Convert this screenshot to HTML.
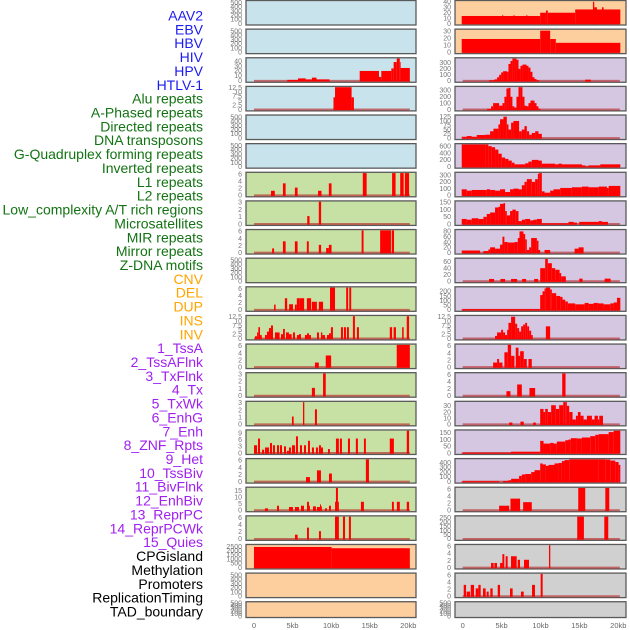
<!DOCTYPE html>
<html><head><meta charset="utf-8">
<style>
html,body{margin:0;padding:0;background:#fff;}
svg{display:block;font-family:"Liberation Sans",sans-serif;}
</style></head>
<body>
<svg id="chart" width="630" height="630" viewBox="0 0 630 630" xmlns="http://www.w3.org/2000/svg"></svg>
<script>
// ---------- data ----------
const labels = ["AAV2","EBV","HBV","HIV","HPV","HTLV-1","Alu repeats","A-Phased repeats","Directed repeats","DNA transposons","G-Quadruplex forming repeats","Inverted repeats","L1 repeats","L2 repeats","Low_complexity A/T rich regions","Microsatellites","MIR repeats","Mirror repeats","Z-DNA motifs","CNV","DEL","DUP","INS","INV","1_TssA","2_TssAFlnk","3_TxFlnk","4_Tx","5_TxWk","6_EnhG","7_Enh","8_ZNF_Rpts","9_Het","10_TssBiv","11_BivFlnk","12_EnhBiv","13_ReprPC","14_ReprPCWk","15_Quies","CPGisland","Methylation","Promoters","ReplicationTiming","TAD_boundary"];
const labelGroups = [6,13,5,15,5];
const labelColors = ["#1c1cf0","#137313","#ffa500","#a020f0","#000000"];
const xTicks = [0,5,10,15,20];
const xTickLabels = ["0","5kb","10kb","15kb","20kb"];

const T500 = [0,100,200,300,400,500];
const T6 = [0,2,4,6];
const T3 = [0,1,2,3];
const T125 = [0,2.5,5,7.5,10,12.5];

// left column bars: [startKb, endKb, value]
const L2 = [[4.3,5.7,2],[5.7,6.7,5],[6.7,7.5,3],[7.5,8.1,6.5],[8.1,9.8,3],[13.7,16.2,20],[16.2,16.5,8],[16.5,17.8,20],[17.8,18.1,25],[18.1,18.5,38],[18.5,18.9,45],[18.9,19.0,38],[19.0,20.2,26]];
const L3 = [[10.3,10.5,7],[10.5,12.65,13],[12.65,12.95,7]];
const L6 = [[2.2,2.7,1.3],[3.75,4.1,3.4],[5.3,5.65,2.2],[8.3,8.75,1.3],[9.7,10.05,3.4],[14.1,14.6,7],[17.9,18.35,7],[18.95,19.4,7],[19.55,20.1,7]];
const L7 = [[6.9,7.2,1.1],[8.4,8.7,3.5]];
const L8 = [[2.35,2.6,1.2],[3.75,4.1,3.2],[5.3,5.65,3.2],[6.85,7.1,3.2],[8.4,8.7,2.2],[9.35,9.7,1.3],[9.7,10.05,2.2],[13.95,14.2,7],[16.35,17.75,7],[17.85,18.15,7]];
const L10 = [[2.6,2.8,1.5],[4.0,4.3,3.3],[4.55,5.05,1.6],[5.3,5.55,1.5],[5.55,5.85,3.3],[5.85,6.5,3.3],[6.85,7.4,3.3],[7.5,8.15,2.3],[8.4,8.95,2.3],[9.85,10.5,7],[11.95,12.2,7],[12.35,12.6,7]];
const L11 = [[0.13,0.4,1.3],[0.4,0.56,3.5],[0.56,0.78,6.5],[0.78,1.0,2],[1.42,1.68,2],[1.68,1.94,4],[1.94,2.2,6],[2.2,2.46,7.5],[2.72,3.32,3.5],[3.5,3.76,2.5],[3.76,4.0,5.5],[4.15,4.53,3.5],[4.53,4.88,2.5],[5.05,5.31,3.5],[5.57,5.83,2],[5.83,6.09,2.5],[6.6,6.87,2],[6.87,7.12,3],[7.12,7.38,2],[8.16,8.42,3.5],[8.68,8.85,3.5],[8.85,9.2,2],[9.46,9.72,2],[9.72,9.97,3],[9.97,10.23,6.5],[11.27,11.53,6.5],[11.66,11.92,6.5],[12.05,12.3,6.5],[12.82,13.08,13],[13.34,13.6,6.5],[17.6,17.9,6.5],[18.1,18.4,6.5],[19.2,19.4,6.5],[19.8,20.1,13]];
const L12 = [[7.9,8.4,1.3],[9.3,10.0,3.3],[18.5,20.2,7]];
const L13 = [[7.5,7.9,1.1],[8.95,9.3,3.5]];
const L14 = [[4.92,5.14,1.1],[6.35,6.52,3.5],[7.9,8.16,2.1]];
const L15 = [[0,0.39,3.5],[0.52,0.78,6.5],[1.04,1.3,1.5],[1.42,1.94,2.5],[2.07,2.33,4.5],[2.46,2.72,3.5],[2.98,3.24,3.5],[3.37,3.63,3.5],[3.89,4.15,3],[4.27,4.53,1],[4.53,4.79,2.5],[4.92,5.31,3.5],[5.44,5.7,7.5],[5.96,6.22,3.5],[6.48,6.74,3.5],[7.0,7.25,5.5],[7.51,7.77,2.5],[8.03,8.29,2.5],[8.42,8.68,3.5],[8.68,8.94,2.5],[9.59,9.84,1.8],[10.62,11.0,6.5],[11.14,11.4,6.5],[12.18,12.44,6.5],[13.2,13.47,6.5],[14.25,14.5,6.5],[17.6,18.13,6.5],[19.8,20.1,11]];
const L16 = [[6.74,7.25,1.3],[8.16,8.68,3.2],[9.72,10.1,2.3],[14.5,14.9,7]];
const L17 = [[1.42,1.81,1.5],[2.98,3.24,3.5],[4.53,5.05,2.5],[5.31,5.83,2.5],[6.09,6.48,3.5],[6.87,7.12,6.5],[7.12,7.25,3.5],[7.64,8.03,3],[8.16,8.55,2.5],[8.55,8.68,4.5],[8.68,8.8,3],[9.2,9.46,1.5],[9.72,9.97,3.5],[10.5,10.62,6.5],[10.62,10.88,19],[10.88,11.0,6.5],[13.86,14.25,6.5],[17.88,18.13,6.5],[18.52,18.9,6.5],[19.8,20.1,6.5]];
const L18 = [[5.31,5.66,1.2],[6.87,7.12,3.2],[8.42,8.68,2.2],[10.5,11.0,7],[11.53,11.8,7],[12.3,12.56,7]];
const L19 = [[0,10.06,2450],[10.06,20.2,2300]];

// right column bars
const R0 = [[-0.13,9.96,14],[5.1,5.2,16],[6.55,6.65,16],[8.2,8.3,16],[9.96,10.7,20],[10.7,10.94,24],[10.94,14.46,20],[14.46,20.26,26],[16.74,16.91,40],[16.91,17.25,30],[17.9,18.11,30]];
const R1 = [[-0.13,9.96,19],[9.96,11.24,31],[11.24,11.97,19],[11.97,20.26,13.5]];
const R2 = [[3.39,4.08,10],[4.08,4.42,25],[4.42,4.68,60],[4.68,4.94,100],[4.94,5.19,140],[5.19,5.71,160],[5.71,5.88,150],[5.88,6.14,280],[6.14,6.39,330],[6.39,6.65,370],[6.65,6.91,380],[6.91,7.17,350],[7.17,7.42,200],[7.42,7.68,250],[7.68,8.2,270],[8.2,8.45,250],[8.45,8.71,220],[8.71,8.97,150],[8.97,9.23,60],[9.23,9.49,30],[9.49,9.83,10],[15.75,16.48,20]];
const R3 = [[3.13,3.65,10],[3.65,3.91,50],[3.91,4.68,100],[4.68,5.11,60],[5.11,5.36,100],[5.36,5.62,200],[5.62,5.88,330],[5.88,6.14,340],[6.14,6.39,200],[6.39,6.65,50],[6.65,6.91,30],[6.91,7.17,200],[7.17,7.42,370],[7.42,7.68,350],[7.68,7.94,200],[7.94,8.2,60],[8.2,8.45,50],[8.45,8.71,100],[8.71,9.23,140],[9.23,9.49,100],[9.49,9.74,50],[9.74,10.0,10]];
const R4 = [[-0.13,0.52,8],[0.52,1.16,12],[1.16,1.8,8],[1.8,2.88,18],[2.88,3.52,20],[3.52,3.95,40],[3.95,4.59,55],[4.59,4.8,80],[4.8,5.24,110],[5.24,5.67,125],[5.67,5.88,80],[5.88,6.22,50],[6.22,6.52,90],[6.52,7.25,100],[7.25,7.6,40],[7.6,7.94,50],[7.94,8.24,70],[8.24,8.54,40],[8.54,8.88,20],[8.88,9.31,30],[9.31,9.74,40],[9.74,10.17,25]];
const R5 = [[-0.13,2.88,700],[2.88,3.3,650],[3.3,3.73,600],[3.73,4.16,570],[4.16,4.59,500],[4.59,5.02,380],[5.02,5.45,270],[5.45,5.88,230],[5.88,6.31,180],[6.31,6.65,120],[6.65,8.03,70],[8.03,8.45,100],[8.45,8.88,150],[8.88,9.74,200],[9.74,10.17,180],[10.17,11.89,90],[11.89,12.32,70],[12.32,12.75,90],[12.75,15.32,70],[15.32,15.75,40],[15.75,16.18,10],[16.18,17.68,40],[17.68,20.26,70]];
const R6 = [[-0.13,0.52,90],[0.52,1.16,70],[1.16,3.09,80],[3.09,3.52,90],[3.52,4.16,80],[4.16,4.8,70],[4.8,5.45,90],[5.45,6.09,50],[6.09,6.52,90],[6.52,7.17,100],[7.17,7.6,90],[7.6,7.94,150],[7.94,8.24,200],[8.24,8.88,240],[8.88,9.31,200],[9.31,9.66,240],[9.66,9.83,320],[9.83,10.17,350],[10.17,10.52,60],[10.52,11.24,40],[11.24,11.67,70],[11.67,12.53,90],[12.53,14.03,110],[14.03,15.32,120],[15.32,16.18,130],[16.18,17.47,120],[17.47,18.54,130],[18.54,18.76,110],[18.76,20.26,140]];
const R7 = [[-0.13,0.52,35],[0.52,1.16,30],[1.16,2.02,40],[2.02,2.66,35],[2.66,3.09,50],[3.09,3.52,70],[3.52,4.16,80],[4.16,4.59,115],[4.59,4.8,120],[4.8,5.24,140],[5.24,5.45,145],[5.45,5.67,90],[5.67,6.09,60],[6.09,6.39,90],[6.39,6.82,100],[6.82,7.17,90],[7.17,7.6,20],[7.6,8.03,30],[8.03,8.67,35],[8.67,9.1,25],[9.1,9.53,30],[9.53,10.17,35],[10.17,13.6,5],[13.6,14.25,15],[14.25,14.68,10],[14.98,17.47,15],[17.47,17.9,20],[17.9,18.67,15]];
const R8 = [[-0.13,2.23,8],[2.66,3.3,6],[3.3,3.52,12],[3.52,4.16,20],[4.16,4.8,15],[4.8,5.11,30],[5.11,5.36,60],[5.36,5.79,40],[5.79,6.65,38],[6.65,7.08,40],[7.08,7.3,55],[7.3,7.81,80],[7.81,8.03,70],[8.03,8.24,50],[8.24,8.54,10],[8.54,8.8,20],[8.8,9.53,55],[9.53,9.74,45],[9.74,9.96,10],[10.52,11.24,10],[14.38,14.89,15],[14.89,15.54,20]];
const R9 = [[3.39,4.03,7],[4.85,5.45,7],[6.22,7.0,7],[7.64,8.15,7],[9.18,9.7,7],[9.96,10.6,40],[10.6,10.94,68],[10.94,11.46,55],[11.46,11.89,40],[11.89,12.45,35],[12.45,12.66,25],[12.66,13.26,15],[14.98,15.41,8],[18.24,19.01,8]];
const R10 = [[-0.13,9.96,8],[9.96,10.26,160],[10.26,10.52,200],[10.52,10.69,230],[10.69,11.24,240],[11.24,11.46,220],[11.46,12.02,180],[12.02,12.53,150],[12.53,12.83,140],[12.83,13.18,110],[13.18,13.52,90],[13.52,14.46,70],[14.46,15.67,60],[15.67,16.18,75],[16.18,16.82,65],[16.82,17.38,75],[17.38,18.11,70],[18.11,18.97,60],[18.97,19.4,70],[19.4,19.83,80],[19.83,20.26,130]];
const R11 = [[4.16,4.42,1.5],[4.42,4.94,3.5],[4.94,5.19,5],[5.19,5.45,3.5],[5.45,5.71,2],[5.71,5.88,5],[5.88,6.22,9],[6.22,6.74,12.5],[6.74,7.0,8.5],[7.0,7.25,6],[7.25,7.51,4],[7.51,7.77,7],[7.77,8.03,8],[8.03,8.28,9],[8.28,8.54,7],[8.54,8.8,4.5],[8.8,9.01,2],[10.69,11.24,7]];
const R12 = [[3.91,4.42,1.3],[4.42,4.68,2.3],[4.68,5.11,1.3],[5.36,5.79,4.2],[5.79,6.22,6.5],[6.22,6.65,3.2],[6.82,7.17,5.5],[7.17,7.38,3.2],[7.38,7.85,4.5],[7.85,8.24,2.3],[8.45,8.88,2.3]];
const R13 = [[5.62,6.14,1.3],[7.0,7.6,3.2],[8.58,9.31,2.2],[12.79,13.22,7]];
const R14 = [[5.97,6.39,3],[7.42,7.85,4.5],[9.06,9.4,3],[9.96,10.39,25],[10.39,10.6,20],[10.6,10.94,25],[10.94,11.37,20],[11.37,11.97,31],[11.97,12.4,25],[12.4,12.92,31],[12.92,13.18,38],[13.18,13.39,36],[13.39,13.69,30],[13.69,14.12,20],[14.12,14.55,8],[14.55,14.81,14],[14.81,15.15,20],[15.15,15.54,14],[15.54,15.97,8],[15.97,16.61,14],[16.61,16.95,8],[16.95,17.38,14],[17.38,17.55,8],[17.55,18.03,14]];
const R15 = [[-0.13,6.22,3],[6.22,9.96,10],[9.96,10.39,90],[10.39,11.24,70],[11.24,11.67,75],[11.67,12.1,70],[12.1,13.18,85],[13.18,13.6,95],[13.6,13.9,100],[13.9,14.68,110],[14.68,15.32,108],[15.32,16.39,115],[16.39,17.04,125],[17.04,17.47,135],[17.47,18.76,140],[18.76,19.4,155],[19.4,20.26,165]];
const R16 = [[-0.13,4.68,10],[5.19,5.88,15],[5.88,6.22,30],[6.22,7.25,60],[7.25,7.6,120],[7.6,8.03,150],[8.03,8.8,160],[8.8,9.23,200],[9.23,9.96,240],[9.96,10.26,380],[10.26,10.69,360],[10.69,11.03,330],[11.03,11.8,350],[11.8,12.32,380],[12.32,12.75,390],[12.75,13.09,430],[13.09,13.69,450],[13.69,17.47,480],[17.47,18.33,470],[18.33,18.97,460],[18.97,19.61,440],[19.61,20.04,410],[20.04,20.26,350]];
const R17 = [[4.68,5.97,1.3],[6.14,7.38,3.3],[7.77,8.88,2.3],[14.85,15.75,7],[18.33,18.84,7]];
const R18 = [[14.72,15.58,300],[18.2,18.71,300]];
const R19 = [[3.64,3.98,1.3],[4.07,4.41,1.3],[4.8,5.1,1.3],[5.1,5.35,3.8],[5.52,5.78,3.2],[6.21,6.94,3.2],[7.07,7.37,2.2],[7.88,8.52,2.2],[11.09,11.26,7]];
const R20 = [[0.13,0.43,3.2],[0.51,0.94,1.3],[1.03,1.46,3.2],[1.67,2.01,2.2],[2.01,2.31,3.2],[2.61,2.95,2.2],[3.08,3.34,1.3],[3.55,3.85,2.2],[4.5,4.8,3.2],[6.08,6.42,2.2],[7.49,7.84,1.3],[8.91,9.29,3.2],[10.02,10.28,7]];

const BLUE="#c8e3eb", GREEN="#c7e0a4", ORANGE="#fdcf9f", PURPLE="#d5c6e2", GRAY="#d0d0d0";
// [fill, ticks, domainMax, bars]
const leftPanels = [
 [BLUE,T500,530,null],[BLUE,T500,530,null],[BLUE,[0,10,20,30,40],45,L2],[BLUE,T125,12.8,L3],
 [BLUE,T500,530,null],[BLUE,T500,530,null],
 [GREEN,T6,6.3,L6],[GREEN,T3,3.1,L7],[GREEN,T6,6.3,L8],[GREEN,T500,530,null],[GREEN,T6,6.3,L10],
 [GREEN,T125,12.8,L11],[GREEN,T6,6.3,L12],[GREEN,T3,3.1,L13],[GREEN,T3,3.1,L14],[GREEN,[0,3,6,9],10,L15],
 [GREEN,T6,6.3,L16],[GREEN,[0,5,10,15],17,L17],[GREEN,T6,6.3,L18],
 [ORANGE,[0,500,1000,1500,2000,2500],2650,L19],[ORANGE,T500,530,null],[ORANGE,T500,530,null]
];
const rightPanels = [
 [ORANGE,[0,10,20,30,40],41,R0],[ORANGE,[0,10,20,30],32,R1],
 [PURPLE,[0,100,200,300],370,R2],[PURPLE,[0,100,200,300],350,R3],[PURPLE,[0,25,50,75,100,125],130,R4],
 [PURPLE,[0,200,400,600],650,R5],[PURPLE,[0,100,200,300],330,R6],[PURPLE,[0,50,100,150],155,R7],
 [PURPLE,[0,20,40,60,80],84,R8],[PURPLE,[0,20,40,60],68,R9],[PURPLE,[0,50,100,150,200],240,R10],
 [PURPLE,T125,12.8,R11],[PURPLE,T6,6.3,R12],[PURPLE,T6,6.3,R13],[PURPLE,[0,10,20,30],36,R14],
 [PURPLE,[0,50,100,150],165,R15],[PURPLE,[0,100,200,300,400],465,R16],
 [GRAY,T6,6.3,R17],[GRAY,[0,50,100,150,200,250],265,R18],[GRAY,T6,6.3,R19],[GRAY,T6,6.3,R20],[GRAY,T500,530,null]
];

// ---------- drawing ----------
const NS="http://www.w3.org/2000/svg";
const svg=document.getElementById("chart");
function mk(tag,attrs,parent){const e=document.createElementNS(NS,tag);for(const k in attrs)e.setAttribute(k,attrs[k]);(parent||svg).appendChild(e);return e;}

const labelLayer=mk("g",{});


let gi=0,gc=0;
labels.forEach((t,i)=>{
  while(gc>=labelGroups[gi]){gi++;gc=0;}
  gc++;
  const tx=mk("text",{x:203,y:20.5+i*13.86,"text-anchor":"end","font-size":"14",fill:labelColors[gi]},labelLayer);
  tx.textContent=t;
  
  
});

function drawColumn(panels,px,pw,x0px,x20px,tickRight,side){
  const xs=kb=>x0px+(x20px-x0px)*kb/20;
  panels.forEach((p,i)=>{
    const [fill,ticks,dmax,bars]=p;
    const top=0.5+i*28.63;
    const h=(i===21)?15.8:24.5;
    const bottom=top+h;
    const g=mk("g",{});
    
    
    const r=mk("rect",{x:px,y:top,width:pw,height:h,fill:fill,stroke:"#5a5a5a","stroke-width":1.3},g);
    
    
    const yZero=bottom-1.4, yTop=top+0.8;
    const ys=v=>yZero-(yZero-yTop)*Math.min(v,dmax)/dmax;
    ticks.forEach(t=>{
      const tt=mk("text",{x:tickRight,y:ys(t)+2.3,"text-anchor":"end","font-size":"7",fill:"#777"},g);
      tt.textContent=String(t);
      
      
    });
    if(bars){
      const bl=mk("line",{x1:xs(0),x2:xs(20.2),y1:yZero,y2:yZero,stroke:"rgba(185,45,45,0.65)","stroke-width":2},g);
      
      
      bars.forEach(b=>{
        const y=ys(b[2]);
        const a=Math.max(xs(0)-1,xs(b[0]));
        const rb=mk("rect",{x:a,y:y,width:Math.max(0.8,xs(b[1])-a),height:yZero-y+0.6,fill:"#ff0000"},g);
        
        
      });
    }
  });
  const ax=mk("g",{});
  
  
  xTicks.forEach((t,k)=>{
    const tx=mk("text",{x:xs(t),y:628,"text-anchor":"middle","font-size":"7.5",fill:"#666"},ax);
    tx.textContent=xTickLabels[k];
    
    
  });
}
drawColumn(leftPanels,246,170,254,408.3,242,'left');
drawColumn(rightPanels,455,171,462.7,618.3,451,'right');
</script>
</body></html>
